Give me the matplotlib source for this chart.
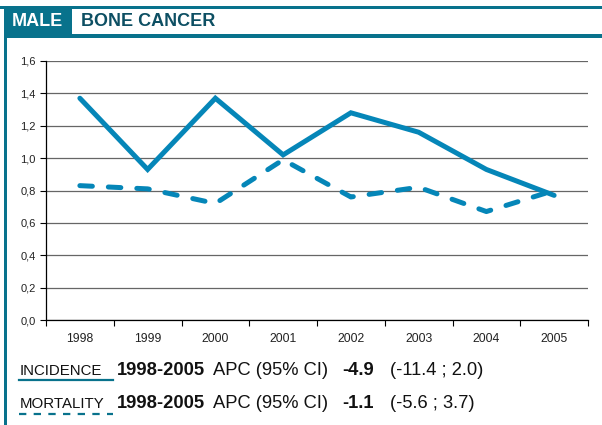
import matplotlib.pyplot as plt
from matplotlib.lines import Line2D
from matplotlib.patches import Rectangle

plt.rcParams["font.family"] = ["Liberation Sans", "DejaVu Sans"]

years = ["1998", "1999", "2000", "2001", "2002", "2003", "2004", "2005"]
incidence = [1.37, 0.93, 1.37, 1.02, 1.28, 1.16, 0.93, 0.77]
mortality = [0.83, 0.81, 0.72, 0.99, 0.76, 0.82, 0.67, 0.80]
y_ticks = [0.0, 0.2, 0.4, 0.6, 0.8, 1.0, 1.2, 1.4, 1.6]
y_labels = ["0,0", "0,2", "0,4", "0,6", "0,8", "1,0", "1,2", "1,4", "1,6"]

LINE = "#0586b8"
TEAL = "#08728c"
DARK = "#0d4f63"

W, H = 602, 425
fig = plt.figure(figsize=(W / 100, H / 100), dpi=100)


def fx(px):
    return px / W


def fy(py):
    return 1 - py / H


# ------------ frame / header ------------
fig.add_artist(Rectangle((fx(0), fy(8.5)), 1, 2.5 / H, transform=fig.transFigure,
                         color=TEAL, lw=0))
fig.add_artist(Rectangle((fx(4), fy(H)), 3 / W, (H - 7) / H, transform=fig.transFigure,
                         color=TEAL, lw=0))
fig.add_artist(Rectangle((fx(4), fy(36)), 68 / W, 29 / H, transform=fig.transFigure,
                         color=TEAL, lw=0))
fig.add_artist(Rectangle((fx(4), fy(37.5)), 1, 3 / H, transform=fig.transFigure,
                         color=TEAL, lw=0))
fig.text(fx(12), fy(22), "MALE", color="white", fontsize=13, fontweight="bold",
         va="center", ha="left")
fig.text(fx(81), fy(22), "BONE CANCER", color=DARK, fontsize=13, fontweight="bold",
         va="center", ha="left")

# ------------ chart ------------
ax = fig.add_axes([fx(46), fy(320), (588 - 46) / W, (320 - 61) / H])
x = list(range(len(years)))
ax.plot(x, incidence, color=LINE, lw=3.6, solid_capstyle="round",
        solid_joinstyle="miter")
ax.plot(x, mortality, color=LINE, lw=3.6, dashes=(2.5, 3.2),
        dash_capstyle="round")

ax.set_xlim(-0.5, len(years) - 0.5)
ax.set_ylim(0, 1.6)
ax.set_yticks(y_ticks)
ax.set_yticklabels(y_labels, fontsize=8, color="#222222")
ax.set_xticks(x)
ax.set_xticklabels(years, fontsize=8.8, color="#222222")
ax.set_xticks([i - 0.5 for i in range(len(years) + 1)], minor=True)
ax.tick_params(axis="x", which="major", length=0, pad=9)
ax.tick_params(axis="x", which="minor", length=4, width=0.8, direction="out")
ax.tick_params(axis="y", length=4.3, width=0.8, direction="out", pad=3)
ax.grid(axis="y", color="#666666", lw=0.9)
ax.set_axisbelow(True)
for s in ["top", "right"]:
    ax.spines[s].set_visible(False)
ax.spines["left"].set_linewidth(0.9)
ax.spines["bottom"].set_linewidth(0.9)

# ------------ legend text ------------
rows = [
    ("INCIDENCE", "-4.9", "(-11.4 ; 2.0)", 375, "-"),
    ("MORTALITY", "-1.1", "(-5.6 ; 3.7)", 408, "--"),
]
for name, apc, ci, base, style in rows:
    fig.text(fx(20), fy(base), name, fontsize=10.8, color="#111111", va="baseline")
    fig.text(fx(117), fy(base), "1998-2005", fontsize=13.2, fontweight="bold",
             color="#111111", va="baseline")
    fig.text(fx(213), fy(base), "APC (95% CI)", fontsize=13.2, color="#111111",
             va="baseline")
    fig.text(fx(342), fy(base), apc, fontsize=13.2, fontweight="bold",
             color="#111111", va="baseline")
    fig.text(fx(390), fy(base), ci, fontsize=13.2, color="#111111", va="baseline")
    if style == "-":
        fig.add_artist(Line2D([fx(19), fx(113)], [fy(base + 5), fy(base + 5)],
                              transform=fig.transFigure, color=TEAL, lw=1.6))
    else:
        fig.add_artist(Line2D([fx(19), fx(113)], [fy(base + 6), fy(base + 6)],
                              transform=fig.transFigure, color=TEAL, lw=1.6,
                              dashes=(3.3, 3.3)))

fig.savefig("out.png", dpi=100)
